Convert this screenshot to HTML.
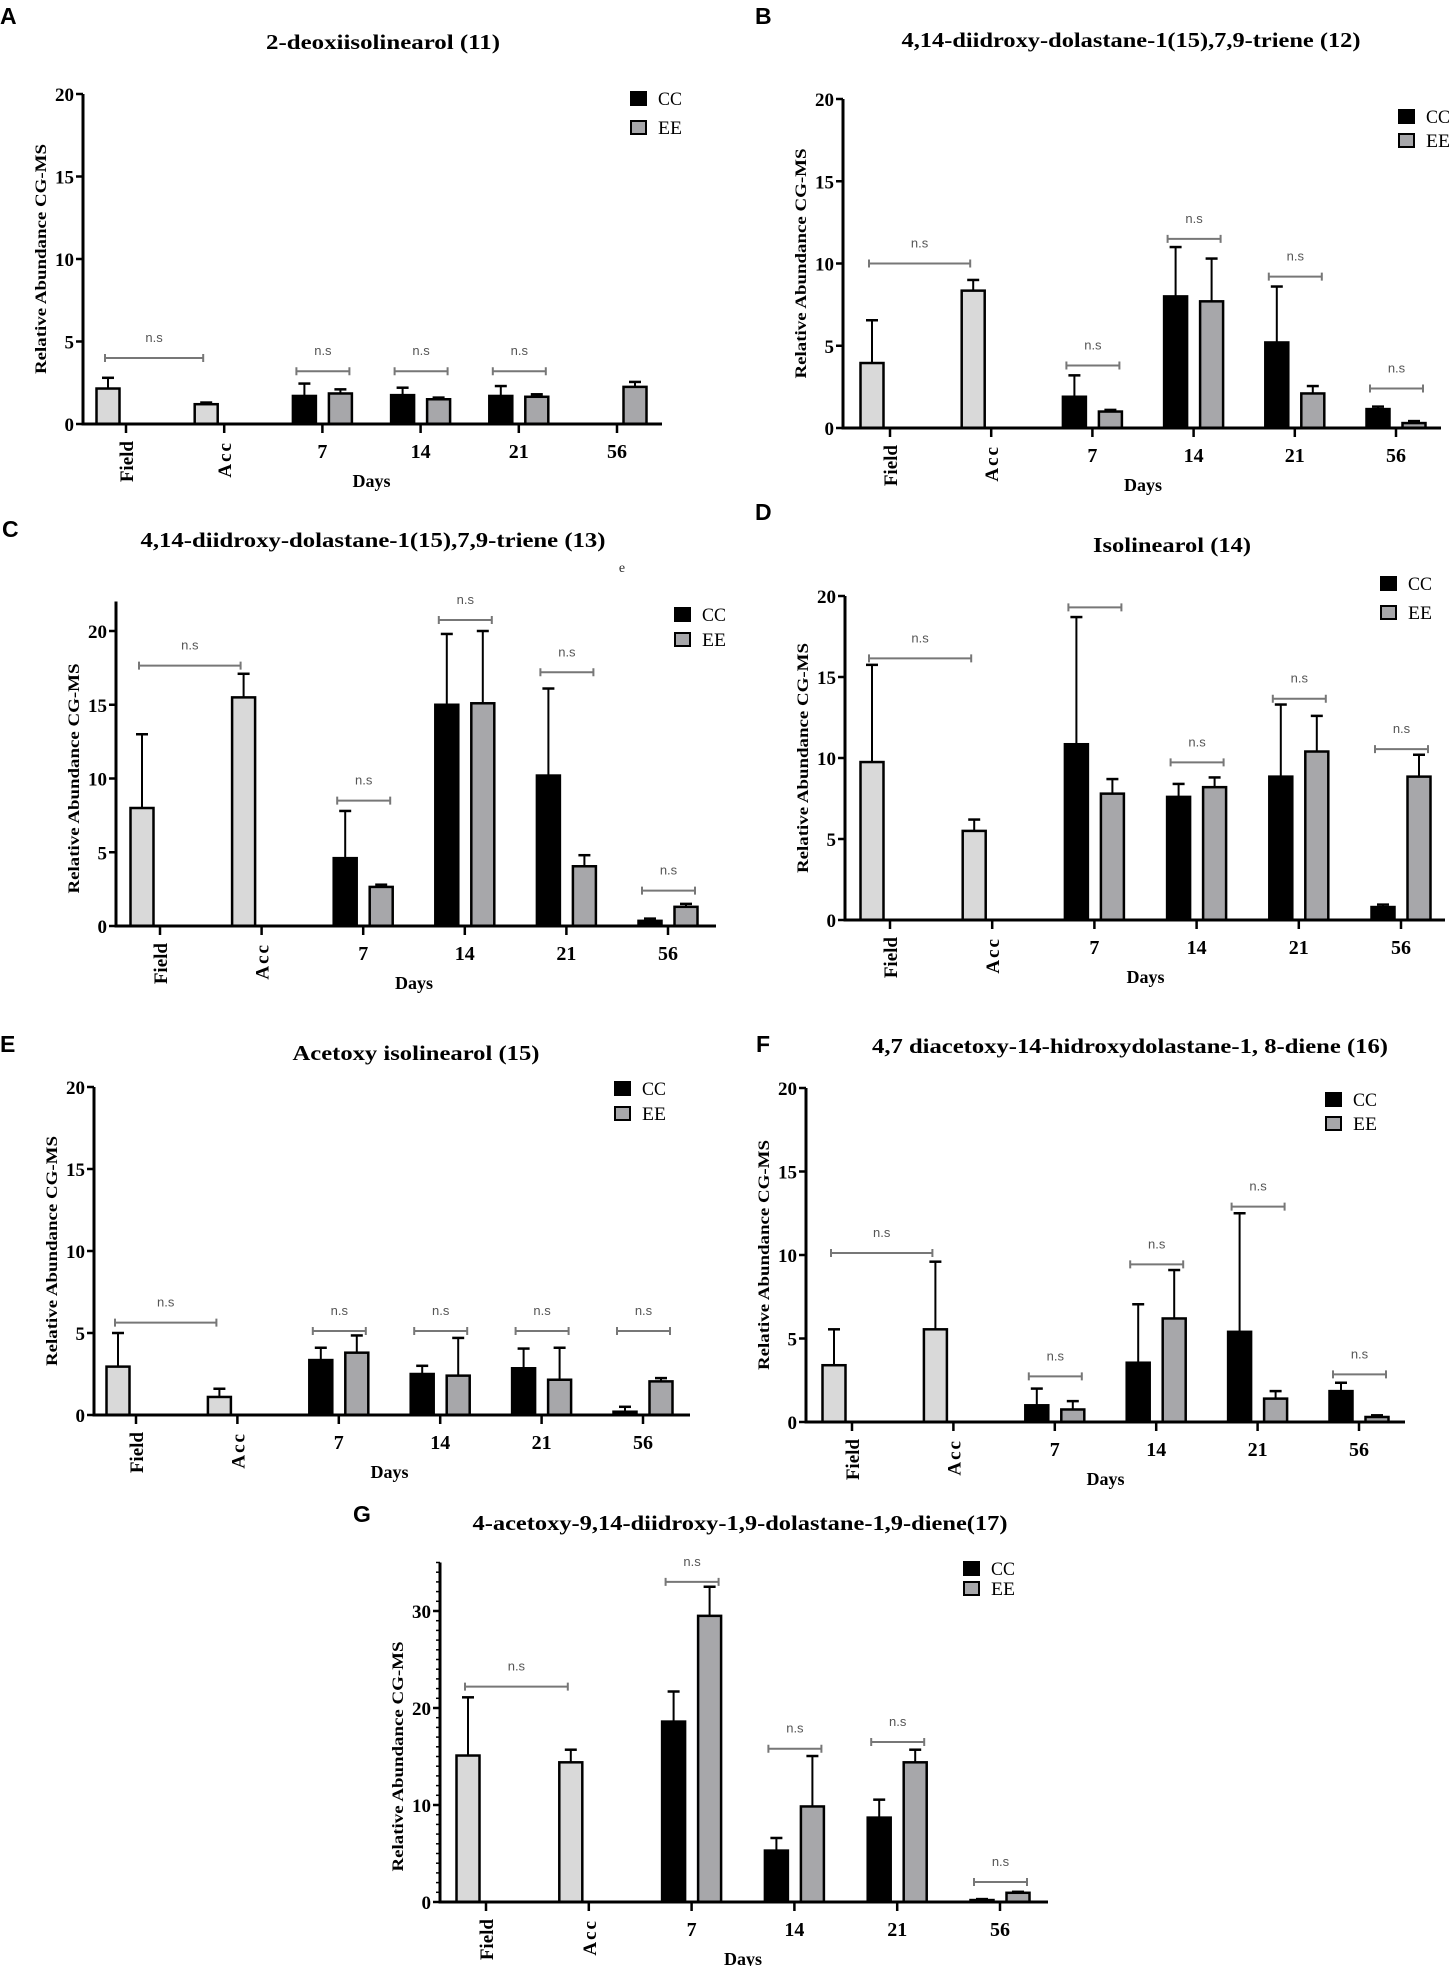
<!DOCTYPE html>
<html><head><meta charset="utf-8"><style>
html,body{margin:0;padding:0;background:#fff;}
svg{display:block;}
</style></head><body>
<svg id="fig" xmlns="http://www.w3.org/2000/svg" width="1453" height="1966" viewBox="0 0 1453 1966"></svg>
<script>
const categories = ['Field','Acc','7','14','21','56'];
// CC means (Field/Acc = reference bars), EE means
const aCC = [2.15,1.2,1.7,1.75,1.7,0];
const aCCerr = [0.65,0.1,0.75,0.45,0.6,0];
const aEE = [null,null,1.85,1.5,1.65,2.25];
const aEEerr = [0,0,0.25,0.1,0.15,0.3];
const aNs = [4.0,3.2,3.2,3.2,null];

const bCC = [3.95,8.35,1.9,8.0,5.2,1.15];
const bCCerr = [2.6,0.65,1.3,3.0,3.4,0.15];
const bEE = [null,null,1.0,7.7,2.1,0.3];
const bEEerr = [0,0,0.1,2.6,0.45,0.12];
const bNs = [10.0,3.8,11.5,9.2,2.4];

const cCC = [8.0,15.5,4.6,15.0,10.2,0.35];
const cCCerr = [5.0,1.6,3.2,4.8,5.9,0.15];
const cEE = [null,null,2.65,15.1,4.05,1.3];
const cEEerr = [0,0,0.15,4.9,0.75,0.2];
const cNs = [17.65,8.5,20.75,17.2,2.4];

const dCC = [9.75,5.5,10.85,7.6,8.85,0.8];
const dCCerr = [6.0,0.7,7.85,0.8,4.45,0.15];
const dEE = [null,null,7.8,8.2,10.4,8.85];
const dEEerr = [0,0,0.9,0.6,2.2,1.35];
const dNs = [16.15,19.3,9.73,13.66,10.55];
const dNsLabel = [true,false,true,true,true];

const eCC = [2.95,1.1,3.35,2.5,2.85,0.2];
const eCCerr = [2.05,0.5,0.75,0.5,1.2,0.3];
const eEE = [null,null,3.8,2.4,2.15,2.05];
const eEEerr = [0,0,1.05,2.3,1.95,0.2];
const eNs = [5.63,5.12,5.12,5.12,5.12];

const fCC = [3.4,5.55,1.0,3.55,5.4,1.85];
const fCCerr = [2.15,4.05,1.0,3.5,7.1,0.5];
const fEE = [null,null,0.75,6.2,1.4,0.3];
const fEEerr = [0,0,0.5,2.9,0.45,0.1];
const fNs = [10.12,2.73,9.44,12.9,2.85];

const gCC = [15.1,14.4,18.6,5.3,8.7,0.2];
const gCCerr = [6.0,1.3,3.1,1.3,1.85,0.1];
const gEE = [null,null,29.5,9.85,14.4,0.95];
const gEEerr = [0,0,3.0,5.2,1.3,0.1];
const gNs = [22.2,33.0,15.8,16.5,2.06];

const yTicks20 = [0,5,10,15,20];
const yTicksG = [0,10,20,30];

const NS = 'http://www.w3.org/2000/svg';
const svg = document.getElementById('fig');
function mk(tag, attrs, parent, txt){
  const e = document.createElementNS(NS, tag);
  for (const k in attrs) e.setAttribute(k, attrs[k]);
  if (txt !== undefined) e.textContent = txt;
  (parent||svg).appendChild(e);
  return e;
}
const SERIF = '"Liberation Serif", serif';
const SANS = '"Liberation Sans", sans-serif';

function panel(cfg, cc, ccErr, ee, eeErr, ns, nsLabel){
  const g = mk('g', {});
  
  
  const yS = v => cfg.base - v * cfg.unit;
  const xS = i => cfg.t0 + i * cfg.sp;
  // letter
  const L = mk('text', {x:cfg.lx, y:cfg.ly, 'font-family':SANS, 'font-weight':'bold', 'font-size':23}, g, cfg.id);
  
  
  // title
  const T = mk('text', {x:cfg.tx, y:cfg.ty, 'text-anchor':'middle', 'font-family':SERIF, 'font-weight':'bold', 'font-size':21, textLength:cfg.tw, lengthAdjust:'spacingAndGlyphs'}, g, cfg.title);
  
  
  // y axis
  const ya = mk('line', {x1:cfg.x0, y1:yS(cfg.top), x2:cfg.x0, y2:cfg.base+1.5, stroke:'#000', 'stroke-width':3}, g);
  
  
  if (cfg.minor){
    for (let v = 0; v <= cfg.top; v += 1){
      mk('line', {x1:cfg.x0-4, y1:yS(v), x2:cfg.x0, y2:yS(v), stroke:'#000', 'stroke-width':1.5}, g);
    }
  }
  cfg.yt.forEach(v => {
    mk('line', {x1:cfg.x0-7, y1:yS(v), x2:cfg.x0, y2:yS(v), stroke:'#000', 'stroke-width':2.5}, g);
    const t = mk('text', {x:cfg.x0-9, y:yS(v)+7, 'text-anchor':'end', 'font-family':SERIF, 'font-weight':'bold', 'font-size':19}, g, String(v));
    
    
  });
  const yl = mk('text', {x:0, y:0, transform:`translate(${cfg.x0-37},${(cfg.base+yS(cfg.yt[cfg.yt.length-1]))/2}) rotate(-90)`, 'text-anchor':'middle', 'font-family':SERIF, 'font-weight':'bold', 'font-size':16, textLength:230, lengthAdjust:'spacingAndGlyphs'}, g, 'Relative Abundance  CG-MS');
  
  
  // bars
  categories.forEach((c, i) => {
    const cx = xS(i);
    const bw = 23;
    const drawBar = (v, err, xc, fill, name) => {
      if (v === null || v === undefined) return;
      if (v > 0){
        const r = mk('rect', {x:xc-bw/2, y:yS(v), width:bw, height:cfg.base-yS(v), fill:fill, stroke:'#000', 'stroke-width':2.5}, g);
        
        
      }
      if (err > 0){
        mk('line', {x1:xc, y1:yS(v), x2:xc, y2:yS(v+err), stroke:'#000', 'stroke-width':2}, g);
        mk('line', {x1:xc-6, y1:yS(v+err), x2:xc+6, y2:yS(v+err), stroke:'#000', 'stroke-width':2.5}, g);
      }
    };
    drawBar(cc[i], ccErr[i], cx-18, i < 2 ? '#d9d9d9' : '#000', i < 2 ? 'bar-' + c.toLowerCase() : 'bar-cc-day-' + c);
    drawBar(ee[i], eeErr[i], cx+18, '#a7a7aa', 'bar-ee-day-' + c);
    mk('line', {x1:cx, y1:cfg.base, x2:cx, y2:cfg.base+9, stroke:'#000', 'stroke-width':2.5}, g);
    let lab;
    if (i < 2){
      lab = mk('text', {x:0, y:0, transform:`translate(${cx+7},${cfg.base+17}) rotate(-90)`, 'text-anchor':'end', 'font-family':SERIF, 'font-weight':'bold', 'font-size':19, 'letter-spacing': i===1 ? 2 : 0}, g, c);
    } else {
      lab = mk('text', {x:cx, y:cfg.base+34, 'text-anchor':'middle', 'font-family':SERIF, 'font-weight':'bold', 'font-size':20}, g, c);
    }
    
    
  });
  const xa = mk('line', {x1:cfg.x0-1.5, y1:cfg.base, x2:cfg.xEnd, y2:cfg.base, stroke:'#000', 'stroke-width':3}, g);
  
  
  const dx = mk('text', {x:(xS(2)+xS(3))/2, y:cfg.base+63, 'text-anchor':'middle', 'font-family':SERIF, 'font-weight':'bold', 'font-size':18}, g, 'Days');
  
  
  // n.s brackets
  ns.forEach((v, k) => {
    if (v === null) return;
    let x1, x2;
    if (k === 0){ x1 = xS(0)-21; x2 = xS(1)-21; }
    else { const cx = xS(k+1); x1 = cx-26; x2 = cx+27; }
    const y = yS(v);
    const br = mk('path', {d:`M${x1},${y} H${x2} M${x1},${y-4} V${y+4} M${x2},${y-4} V${y+4}`, stroke:'#777', 'stroke-width':2, fill:'none'}, g);
    
    
    if (!nsLabel || nsLabel[k]){
      const t = mk('text', {x:(x1+x2)/2, y:y-16, 'text-anchor':'middle', 'font-family':SANS, 'font-size':13, fill:'#555'}, g, 'n.s');
      
      
    }
  });
  // legend
  const lg = mk('g', {}, g);
  
  
  [['CC','#000',0],['EE','#a7a7aa',cfg.lgGap]].forEach(([n,f,dy]) => {
    mk('rect', {x:cfg.lgx, y:cfg.lgy+dy, width:15, height:13, fill:f, stroke:'#000', 'stroke-width':2}, lg);
    const t = mk('text', {x:cfg.lgx+27, y:cfg.lgy+dy+13, 'font-family':SERIF, 'font-size':19, textLength:24, lengthAdjust:'spacingAndGlyphs'}, lg, n);
    
    
  });
}

panel({id:'A', lx:0, ly:24, title:'2-deoxiisolinearol  (11)', tx:383, ty:49, tw:234,
  x0:83, base:424, unit:16.5, top:20, yt:yTicks20, t0:126, sp:98.2, xEnd:662,
  lgx:631, lgy:92, lgGap:29}, aCC, aCCerr, aEE, aEEerr, aNs);
panel({id:'B', lx:755, ly:24, title:'4,14-diidroxy-dolastane-1(15),7,9-triene  (12)', tx:1131, ty:47, tw:459,
  x0:843, base:428, unit:16.45, top:20, yt:yTicks20, t0:890, sp:101.2, xEnd:1441,
  lgx:1399, lgy:110, lgGap:24}, bCC, bCCerr, bEE, bEEerr, bNs);
panel({id:'C', lx:2, ly:537, title:'4,14-diidroxy-dolastane-1(15),7,9-triene  (13)', tx:373, ty:547, tw:465,
  x0:116, base:926, unit:14.75, top:22, yt:yTicks20, t0:160, sp:101.6, xEnd:716,
  lgx:675, lgy:608, lgGap:25}, cCC, cCCerr, cEE, cEEerr, cNs);
panel({id:'D', lx:755, ly:520, title:'Isolinearol  (14)', tx:1172, ty:552, tw:158,
  x0:845, base:920, unit:16.2, top:20, yt:yTicks20, t0:890, sp:102.2, xEnd:1445,
  lgx:1381, lgy:577, lgGap:29}, dCC, dCCerr, dEE, dEEerr, dNs, dNsLabel);
panel({id:'E', lx:0, ly:1052, title:'Acetoxy isolinearol  (15)', tx:416, ty:1060, tw:247,
  x0:94, base:1415, unit:16.4, top:20, yt:yTicks20, t0:136, sp:101.4, xEnd:690,
  lgx:615, lgy:1082, lgGap:25}, eCC, eCCerr, eEE, eEEerr, eNs);
panel({id:'F', lx:756, ly:1052, title:'4,7 diacetoxy-14-hidroxydolastane-1,  8-diene (16)', tx:1130, ty:1053, tw:516,
  x0:806, base:1422, unit:16.7, top:20, yt:yTicks20, t0:852, sp:101.4, xEnd:1405,
  lgx:1326, lgy:1093, lgGap:24}, fCC, fCCerr, fEE, fEEerr, fNs);
panel({id:'G', lx:353, ly:1522, title:'4-acetoxy-9,14-diidroxy-1,9-dolastane-1,9-diene(17)', tx:740, ty:1530, tw:535,
  x0:440, base:1902, unit:9.7, top:35, yt:yTicksG, minor:true, t0:486, sp:102.8, xEnd:1048,
  lgx:964, lgy:1562, lgGap:20}, gCC, gCCerr, gEE, gEEerr, gNs);

// stray glyph in panel C
const st = mk('text', {x:622, y:572, 'text-anchor':'middle', 'font-family':SERIF, 'font-size':14, fill:'#333'}, svg, 'e');


</script>
</body></html>
